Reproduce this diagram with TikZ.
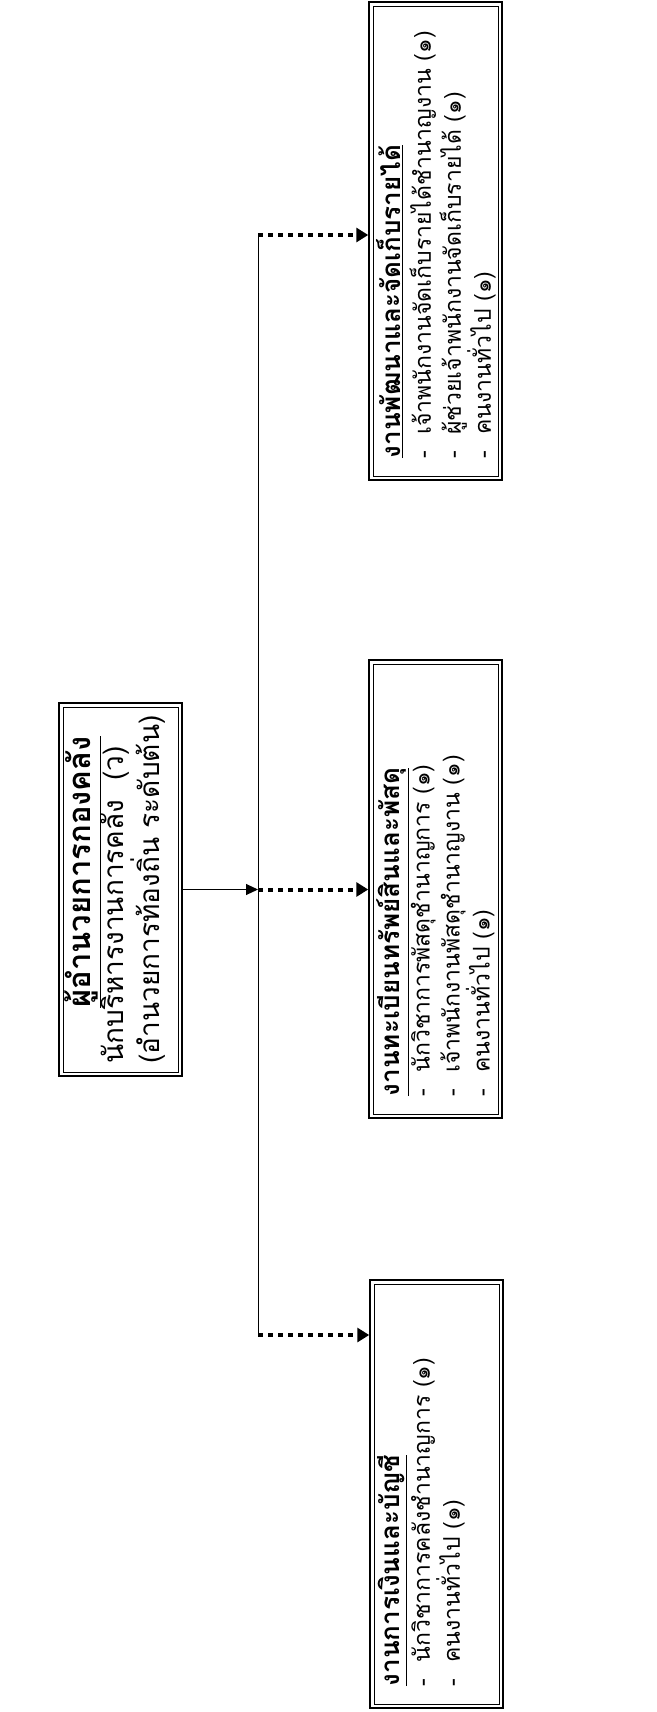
\documentclass[tikz,border=0pt]{standalone}
\usepackage{fontspec}
\newfontfamily\thaifont[Script=Thai]{Loma}
\usetikzlibrary{positioning,arrows.meta,fit}

\begin{document}
\begin{tikzpicture}[x=1pt,y=1pt,
  unitbox/.style={draw,line width=0.7pt,rotate=90,inner sep=0pt,minimum height=125pt},
  unittext/.style={rotate=90,anchor=north west,align=left,inner xsep=18pt,inner ysep=4pt,font=\thaifont\fontsize{23}{30}\selectfont},
  headtext/.style={rotate=90,anchor=north,align=left,inner xsep=0pt,inner ysep=2pt,font=\thaifont\fontsize{28}{33}\selectfont},
  frame/.style={draw,line width=1.8pt,inner sep=3.5pt},
  trunk/.style={line width=1pt},
  leadarrow/.style={line width=1pt,-{Triangle[length=12pt,width=11pt]}},
  dotarrow/.style={line width=4pt,dash pattern=on 5pt off 5pt,-{Triangle[length=12pt,width=14pt]}}
]
\useasboundingbox (0,0) rectangle (656,-1712);

% head of division
\node[unitbox,minimum width=365pt,minimum height=115pt] (head) at (120.5,-889.5) {};
\node[frame,fit=(head)] (headframe) {};
\node[headtext] (headlabel) at (head.north)
  {\hspace*{56pt}{\fontsize{31}{33}\selectfont\underline{\textbf{ผู้อำนวยการกองคลัง}}}\\
   นักบริหารงานการคลัง\ \ (ว)\\
   (อำนวยการท้องถิ่น ระดับต้น)};

% sections
\node[unitbox,minimum width=470pt] (revenue) at (435.5,-241) {};
\node[frame,fit=(revenue)] (revenueframe) {};
\node[unittext] (revenuetext) at (revenue.north west)
  {{\fontsize{26}{30}\selectfont\underline{\textbf{งานพัฒนาและจัดเก็บรายได้}}}\\
   -\hspace{16pt}เจ้าพนักงานจัดเก็บรายได้ชำนาญงาน (๑)\\
   -\hspace{16pt}ผู้ช่วยเจ้าพนักงานจัดเก็บรายได้ (๑)\\
   -\hspace{16pt}คนงานทั่วไป (๑)};

\node[unitbox,minimum width=450pt] (supply) at (435.5,-889) {};
\node[frame,fit=(supply)] (supplyframe) {};
\node[unittext] (supplytext) at (supply.north west)
  {{\fontsize{26}{30}\selectfont\underline{\textbf{งานทะเบียนทรัพย์สินและพัสดุ}}}\\
   -\hspace{16pt}นักวิชาการพัสดุชำนาญการ (๑)\\
   -\hspace{16pt}เจ้าพนักงานพัสดุชำนาญงาน (๑)\\
   -\hspace{16pt}คนงานทั่วไป (๑)};

\node[unitbox,minimum width=420pt] (finance) at (436.5,-1494) {};
\node[frame,fit=(finance)] (financeframe) {};
\node[unittext] (financetext) at (finance.north west)
  {{\fontsize{26}{30}\selectfont\underline{\textbf{งานการเงินและบัญชี}}}\\
   -\hspace{16pt}นักวิชาการคลังชำนาญการ (๑)\\
   -\hspace{16pt}คนงานทั่วไป (๑)};

% connectors
\coordinate (jtop) at (258,-235);
\coordinate (jbot) at (258,-1335);
\coordinate (jmid) at (jtop |- headframe.east);
\draw[trunk] (jtop) -- (jbot);
\draw[leadarrow] (headframe.east) -- (jmid);
\draw[dotarrow] (jtop) -- (jtop -| revenueframe.west);
\draw[dotarrow] (jmid) -- (jmid -| supplyframe.west);
\draw[dotarrow] (jbot) -- (jbot -| financeframe.west);
\end{tikzpicture}
\end{document}
